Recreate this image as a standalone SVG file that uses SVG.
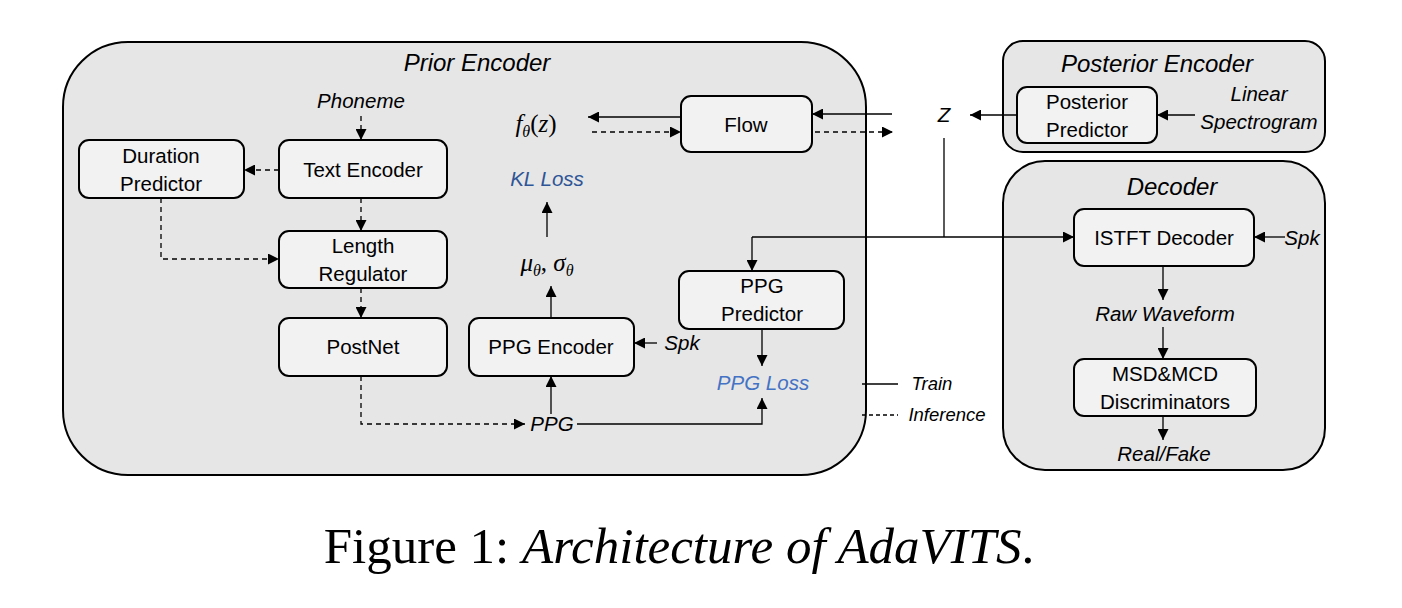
<svg xmlns="http://www.w3.org/2000/svg" width="1402" height="608" viewBox="0 0 1402 608">
<defs>
<marker id="ah" viewBox="0 0 10 10" refX="10" refY="5" markerWidth="11" markerHeight="11" markerUnits="userSpaceOnUse" orient="auto"><path d="M0,0 L10,5 L0,10 Z" fill="#000"/></marker>
<style>
.grp{fill:#e6e6e6;stroke:#000;stroke-width:2}
.nd{fill:#f2f2f2;stroke:#000;stroke-width:2}
.t{font-family:"Liberation Sans",Arial,sans-serif;font-size:20.5px;fill:#000;text-anchor:middle}
.i{font-family:"Liberation Sans",Arial,sans-serif;font-style:italic;font-size:20.5px;fill:#000;text-anchor:middle}
.h{font-family:"Liberation Sans",Arial,sans-serif;font-style:italic;font-size:24px;fill:#000;text-anchor:middle}
.m{font-family:"Liberation Serif","Times New Roman",serif;font-style:italic;font-size:25px;fill:#000;text-anchor:middle}
.s{stroke:#000;stroke-width:1.3;fill:none;marker-end:url(#ah)}
.d{stroke:#000;stroke-width:1.3;fill:none;stroke-dasharray:5,4;marker-end:url(#ah)}
.ln{stroke:#000;stroke-width:1.3;fill:none}
</style>
</defs>
<rect width="1402" height="608" fill="#fff"/>

<g id="prior-encoder">
<rect class="grp" x="63" y="42" width="803" height="433" rx="65"/>
<text class="h" x="477" y="71">Prior Encoder</text>
</g>
<g id="posterior-encoder">
<rect class="grp" x="1003" y="41" width="322" height="111" rx="20"/>
<text class="h" x="1157" y="72">Posterior Encoder</text>
</g>
<g id="decoder">
<rect class="grp" x="1003" y="161" width="322" height="309" rx="42"/>
<text class="h" x="1172" y="195">Decoder</text>
</g>

<g id="duration-predictor"><rect class="nd" x="79" y="140" width="165" height="58" rx="10"/><text class="t" x="161" y="163">Duration</text><text class="t" x="161" y="191">Predictor</text></g>
<g id="text-encoder"><rect class="nd" x="279" y="140" width="168" height="58" rx="10"/><text class="t" x="363" y="177">Text Encoder</text></g>
<g id="length-regulator"><rect class="nd" x="279" y="231" width="168" height="57" rx="10"/><text class="t" x="363" y="253">Length</text><text class="t" x="363" y="281">Regulator</text></g>
<g id="postnet"><rect class="nd" x="279" y="318" width="168" height="58" rx="10"/><text class="t" x="363" y="354">PostNet</text></g>
<g id="ppg-encoder"><rect class="nd" x="469" y="318" width="165" height="58" rx="10"/><text class="t" x="551" y="354">PPG Encoder</text></g>
<g id="ppg-predictor"><rect class="nd" x="679" y="271" width="165" height="58" rx="10"/><text class="t" x="762" y="293">PPG</text><text class="t" x="762" y="321">Predictor</text></g>
<g id="flow"><rect class="nd" x="681" y="96" width="131" height="56" rx="10"/><text class="t" x="746" y="132">Flow</text></g>
<g id="posterior-predictor"><rect class="nd" x="1017" y="87" width="140" height="56" rx="10"/><text class="t" x="1087" y="109">Posterior</text><text class="t" x="1087" y="137">Predictor</text></g>
<g id="istft-decoder"><rect class="nd" x="1074" y="209" width="180" height="57" rx="10"/><text class="t" x="1164" y="245">ISTFT Decoder</text></g>
<g id="msd-mcd"><rect class="nd" x="1074" y="359" width="182" height="57" rx="10"/><text class="t" x="1165" y="381">MSD&amp;MCD</text><text class="t" x="1165" y="409">Discriminators</text></g>

<g id="labels">
<text class="i" x="361" y="108">Phoneme</text>
<text class="m" x="536" y="132">f<tspan font-size="16" dy="5">θ</tspan><tspan dy="-5" font-style="normal">(</tspan>z<tspan font-style="normal">)</tspan></text>
<text class="i" x="547" y="186" style="fill:#2f5597">KL Loss</text>
<text class="m" x="547" y="271">μ<tspan font-size="16" dy="5">θ</tspan><tspan dy="-5" font-style="normal">, </tspan>σ<tspan font-size="16" dy="5">θ</tspan></text>
<text class="i" x="944" y="122">Z</text>
<text class="i" x="1259" y="101">Linear</text>
<text class="i" x="1259" y="129">Spectrogram</text>
<text class="i" x="1302" y="245">Spk</text>
<text class="i" x="682" y="350">Spk</text>
<text class="i" x="1165" y="321">Raw Waveform</text>
<text class="i" x="1164" y="461">Real/Fake</text>
<text class="i" x="763" y="390" style="fill:#4472c4">PPG Loss</text>
<text class="i" x="552" y="431">PPG</text>
<text class="i" x="932" y="390" style="font-size:18.5px">Train</text>
<text class="i" x="947" y="421" style="font-size:18.5px">Inference</text>
</g>

<g id="connectors">
<path class="d" d="M361,116 V140"/>
<path class="d" d="M279,170 H244"/>
<path class="d" d="M361,198 V231"/>
<path class="d" d="M161,198 V259 H279"/>
<path class="d" d="M361,288 V318"/>
<path class="d" d="M361,376 V424 H525"/>
<path class="s" d="M551,414 V376"/>
<path class="s" d="M577,424 H762 V398"/>
<path class="s" d="M657,343 H634"/>
<path class="s" d="M551,318 V286"/>
<path class="s" d="M547,237 V202"/>
<path class="s" d="M681,117 H588"/>
<path class="d" d="M592,132 H681"/>
<path class="s" d="M892,114 H812"/>
<path class="d" d="M815,132 H893"/>
<path class="s" d="M1017,115 H970"/>
<path class="s" d="M1195,115 H1157"/>
<path class="ln" d="M944,138 V237"/>
<path class="s" d="M752,237 H1074"/>
<path class="s" d="M752,237 V271"/>
<path class="s" d="M762,329 V366"/>
<path class="s" d="M1285,237 H1254"/>
<path class="s" d="M1163,266 V300"/>
<path class="s" d="M1163,327 V359"/>
<path class="s" d="M1163,416 V440"/>
</g>

<g id="legend">
<path class="ln" d="M862,384 H898"/>
<path class="ln" d="M862,415 H898" stroke-dasharray="4,3"/>
</g>

<text x="679" y="563" style="font-family:'Liberation Serif','Times New Roman',serif;font-size:51px;text-anchor:middle">Figure 1: <tspan font-style="italic">Architecture of AdaVITS</tspan>.</text>
</svg>
